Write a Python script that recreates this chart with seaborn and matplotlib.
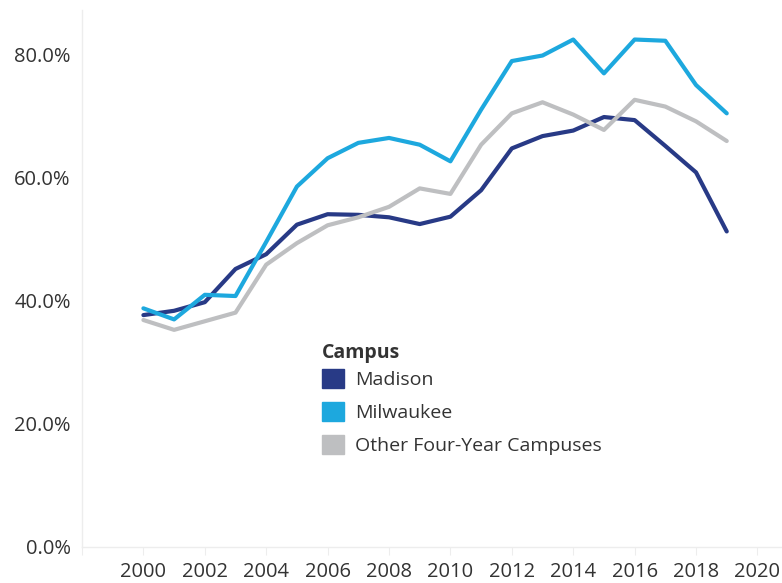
import matplotlib
matplotlib.use("Agg")
import matplotlib.pyplot as plt
from matplotlib.patches import Patch
from matplotlib.ticker import FuncFormatter
import seaborn as sns
import pandas as pd

years = list(range(2000, 2020))
madison = [37.7, 38.4, 39.8, 45.2, 47.6, 52.4, 54.1, 54.0, 53.6, 52.5, 53.7, 58.0, 64.8, 66.8, 67.7, 69.9, 69.4, 65.2, 60.9, 51.3]
milwaukee = [38.8, 37.0, 41.0, 40.8, 49.6, 58.6, 63.2, 65.7, 66.5, 65.4, 62.7, 71.1, 79.0, 79.9, 82.5, 77.0, 82.5, 82.3, 75.1, 70.5]
other = [36.9, 35.3, 36.7, 38.1, 45.9, 49.4, 52.3, 53.6, 55.3, 58.3, 57.4, 65.4, 70.5, 72.3, 70.3, 67.8, 72.7, 71.6, 69.2, 66.0]
campuses = ["Madison", "Milwaukee", "Other Four-Year Campuses"]
colors = ["#283A86", "#1DA8DE", "#BEBFC1"]
x_ticks = list(range(1998, 2021, 2))
y_ticks = [0, 20, 40, 60, 80]

df = pd.DataFrame({
    "Year": years * 3,
    "Rate": madison + milwaukee + other,
    "Campus": [campuses[0]] * len(years) + [campuses[1]] * len(years) + [campuses[2]] * len(years),
})

sns.set_style("white")
plt.rcParams["font.family"] = ["Open Sans", "DejaVu Sans"]

fig = plt.figure(figsize=(7.82, 5.83), dpi=100)
ax = fig.add_axes([82 / 782, 1 - 547 / 583, 1 - 82 / 782, (547 - 10) / 583])

sns.lineplot(data=df, x="Year", y="Rate", hue="Campus", hue_order=campuses,
             palette=colors, linewidth=3.0, legend=False, ax=ax)

ax.set_xlim(1998, 2020.8)
ax.set_ylim(0, 87.3)
ax.set_xticks(x_ticks)
ax.set_xticklabels(["" if t == 1998 else str(t) for t in x_ticks])
ax.set_yticks(y_ticks)
ax.yaxis.set_major_formatter(FuncFormatter(lambda v, p: f"{v:.1f}%"))
ax.set_xlabel("")
ax.set_ylabel("")

for s in ["top", "right"]:
    ax.spines[s].set_visible(False)
for s in ["left", "bottom"]:
    ax.spines[s].set_color("#EDEDED")
    ax.spines[s].set_linewidth(1.0)

ax.tick_params(axis="x", length=5.8, width=0.8, color="#EDEDED", pad=5,
               labelsize=14.5, labelcolor="#333333", direction="out", bottom=True)
ax.tick_params(axis="y", length=0, pad=8.1, labelsize=14.5, labelcolor="#333333")

handles = [Patch(facecolor=c, edgecolor=c) for c in colors]
leg = ax.legend(handles, campuses, title="Campus", loc="upper left",
                bbox_to_anchor=((322 - 82) / 700, (547 - 343) / 537),
                frameon=False, fontsize=14, handlelength=1.13, handleheight=1.13,
                handletextpad=0.55, labelspacing=0.66, borderaxespad=0, borderpad=0)
leg.get_title().set_fontweight("bold")
leg.get_title().set_fontsize(14)
leg._legend_box.align = "left"
leg._legend_box.sep = 4.1
for t in leg.get_texts():
    t.set_color("#333333")
leg.get_title().set_color("#333333")

fig.savefig("out.png", dpi=100)
